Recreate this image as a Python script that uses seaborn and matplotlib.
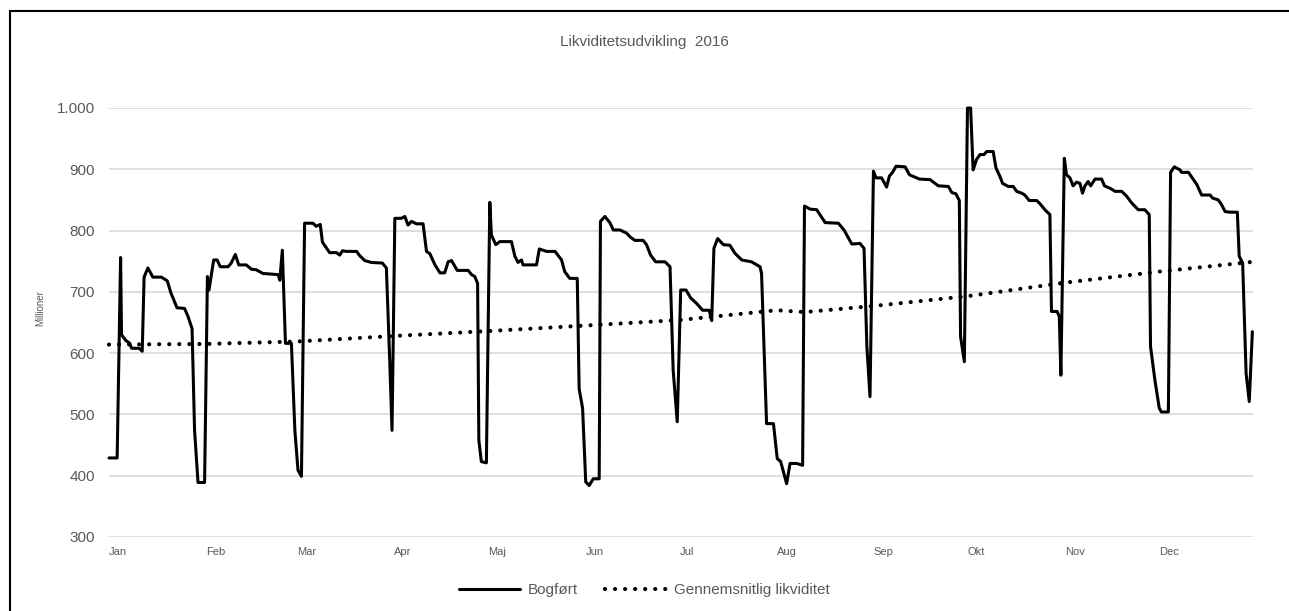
import numpy as np
import pandas as pd
import matplotlib
matplotlib.use("Agg")
import matplotlib.pyplot as plt
from matplotlib.ticker import FuncFormatter
from matplotlib.patches import Rectangle
import seaborn as sns

# day of year (0 = 1 Jan 2016) and value in millions
booked_days = [
    0, 2.6, 3.7, 4, 5.3, 6.6, 7.2, 9.6, 10.6, 11.2, 12.4, 14, 16.7, 18.6, 19.7, 21.7,
    24.1, 25.2, 26.5, 27.3, 28.4, 30.5, 31.4, 31.9, 33.4, 34.5, 35.5, 38, 39, 40.3,
    41.4, 43.8, 45.4, 47, 49.1, 51.8, 54, 54.5, 55.3, 56.3, 58.2, 59.3, 60.3, 61.4,
    62.4, 65.1, 66.1, 67.4, 68.1, 70.4, 72.6, 73.6, 74.5, 75.8, 79, 80, 81.6, 83.7,
    87.2, 88.5, 89.6, 90.3, 91.2, 93.3, 94.4, 95.4, 96.5, 98.1, 100.2, 101.3, 102.4,
    104, 105.6, 107.1, 108.2, 109.3, 111.1, 114.6, 115.7, 116.7, 117.6, 118.0, 118.8,
    120.4, 121.5, 122, 123.4, 124.7, 128.4, 129.5, 130.5, 131.6, 132.1, 136.4, 137.3,
    139.6, 142.3, 144.4, 145.4, 147, 149.4, 150, 151.1, 152.1, 153.2, 154.5, 156.4,
    156.8, 158.2, 159.8, 160.9, 163, 165.1, 166.4, 167.8, 170.4, 171.5, 172.8, 174.4,
    177.4, 179, 180, 181.3, 182.4, 184.1, 185.6, 187.5, 189.4, 191.5, 192.3, 193,
    194.2, 196, 198.1, 199.7, 201.9, 205, 207.7, 208.2, 209.8, 212, 213.2, 214.3,
    216.2, 217.3, 219.4, 221.3, 221.9, 223.7, 225.8, 228.5, 232.7, 234.5, 237, 239.6,
    240.9, 241.8, 242.8, 243.9, 244.7, 246.5, 248.1, 249, 250, 251.1, 254, 255.4,
    257.2, 258.6, 262, 264.6, 267.8, 268.9, 270.2, 271.3, 271.7, 272.9, 273.9, 274.9,
    275.7, 276.8, 277.9, 279.2, 280, 282.1, 283, 284.2, 285.1, 286.9, 288.5, 289.6,
    291.2, 292.2, 293.6, 296, 297, 298.6, 300.2, 300.7, 302.5, 303.2, 303.7, 304.8,
    305.5, 306.6, 307.6, 308.7, 309.8, 310.6, 311.4, 312.4, 313.2, 314.6, 316.7,
    317.6, 319.4, 321, 323.1, 324.7, 326.3, 328.4, 330.5, 331.9, 332.3, 333.7, 335.1,
    335.8, 338, 338.7, 339.9, 341.7, 342.2, 344.4, 346, 347.1, 348.6, 351.3, 352.1,
    353.9, 355, 356.1, 357.7, 360, 360.6, 361.7, 362.8, 363.8, 364.8,
]
booked_values = [
    429, 429, 756, 630, 621, 616, 608, 608, 603, 724, 739, 724, 724, 718, 699, 674,
    673, 660, 640, 474, 389, 389, 725, 703, 752, 752, 741, 741, 747, 761,
    744, 744, 737, 736, 730, 729, 728, 719, 768, 616, 616, 474, 409, 399,
    812, 812, 807, 810, 781, 764, 764, 760, 767, 766, 766, 759, 751, 748,
    747, 739, 583, 474, 820, 820, 823, 809, 815, 811, 811, 766, 762,
    744, 731, 731, 749, 751, 735, 735, 728, 725, 714, 458, 423,
    421, 846, 793, 777, 782, 782, 758, 748, 752, 744, 744, 770,
    766, 766, 752, 733, 722, 722, 542, 510, 390, 384, 395, 395,
    815, 823, 813, 801, 801, 796, 789, 784, 784, 777, 760, 749,
    749, 741, 572, 488, 703, 703, 690, 681, 670, 670, 653, 771,
    787, 777, 776, 763, 752, 749, 741, 730, 485, 485, 428, 423,
    387, 420, 420, 417, 840, 835, 834, 813, 812, 801, 778, 779,
    771, 611, 529, 897, 886, 886, 871, 889, 895, 905, 904, 891,
    887, 884, 883, 873, 872, 862, 860, 849, 627, 586, 1000, 1000,
    899, 916, 924, 924, 929, 929, 902, 889, 877, 872, 872, 864,
    861, 858, 849, 849, 844, 834, 826, 668, 668, 660, 564, 918,
    891, 886, 873, 879, 877, 861, 873, 880, 873, 884, 884,
    873, 869, 864, 864, 856, 845, 834, 834, 826, 611, 556, 510,
    504, 504, 895, 904, 899, 895, 895, 883, 875, 858, 858, 853,
    850, 842, 831, 830, 830, 758, 747, 567, 521, 635,
]

avg_days = [0, 31, 60, 91, 121, 152, 182, 213, 222, 244, 274, 305, 335, 365]
avg_values = [614, 615, 619, 628, 636, 645, 654, 670, 667, 677, 693, 715, 733, 749]

month_labels = ["Jan", "Feb", "Mar", "Apr", "Maj", "Jun",
                "Jul", "Aug", "Sep", "Okt", "Nov", "Dec"]

start = pd.Timestamp("2016-01-01")
booked = pd.DataFrame({
    "date": start + pd.to_timedelta(booked_days, unit="D"),
    "value": booked_values,
})
average = pd.DataFrame({
    "date": start + pd.to_timedelta(avg_days, unit="D"),
    "value": avg_values,
})

sns.set_theme(style="white")
plt.rcParams["font.family"] = ["Liberation Sans", "DejaVu Sans"]

grey = "#595959"
fig = plt.figure(figsize=(12.89, 6.11), dpi=100)
ax = fig.add_axes([109 / 1289, 1 - 537 / 611, (1253 - 109) / 1289, (537 - 108) / 611])

sns.lineplot(data=booked, x="date", y="value", ax=ax, color="black",
             linewidth=2.2, estimator=None, sort=False, label="Bogført")
sns.lineplot(data=average, x="date", y="value", ax=ax, color="black",
             linewidth=3.0, estimator=None, sort=False,
             linestyle=(0, (0.01, 2.4)), dash_capstyle="round",
             label="Gennemsnitlig likviditet")
for line in ax.get_lines():
    line.set_clip_on(False)

ax.set_xlim(start, pd.Timestamp("2016-12-31"))
ax.set_ylim(300, 1000)
ax.set_yticks(np.arange(300, 1001, 100))
ax.yaxis.set_major_formatter(FuncFormatter(lambda v, p: f"{int(v):,}".replace(",", ".")))
ax.grid(axis="y", color="#d9d9d9", linewidth=1.2)
ax.grid(axis="x", visible=False)
for s in ax.spines.values():
    s.set_visible(False)

month_starts = [pd.Timestamp(2016, m, 1) for m in range(1, 13)]
ax.set_xticks(month_starts)
ax.set_xticklabels(month_labels, ha="left")
ax.tick_params(axis="x", length=0, pad=7, labelsize=8, labelcolor=grey)
ax.tick_params(axis="y", length=0, pad=10, labelsize=11, labelcolor=grey)
ax.set_xlabel("")
ax.set_ylabel("")

fig.text(0.5, 1 - 42 / 611, "Likviditetsudvikling  2016", ha="center", va="center",
         fontsize=11, color=grey)
fig.text(40 / 1289, 1 - 308 / 611, "Millioner", rotation=90, ha="center", va="center",
         fontsize=7, color=grey)

ax.get_legend().remove()
handles, labels = ax.get_legend_handles_labels()
leg = fig.legend(handles, labels, loc="center", bbox_to_anchor=(0.5, 1 - 590 / 611),
                 ncol=2, frameon=False, fontsize=11, handlelength=4,
                 handletextpad=0.5, columnspacing=1.8)
for t in leg.get_texts():
    t.set_color(grey)

# outer frame, only top and left edges are visible in the original
fig.add_artist(Rectangle((10 / 1289, -0.1), 1.2, 1 - 11 / 611 + 0.1, fill=False,
                         edgecolor="black", linewidth=1.5, transform=fig.transFigure))

fig.savefig("out.png", dpi=100)
